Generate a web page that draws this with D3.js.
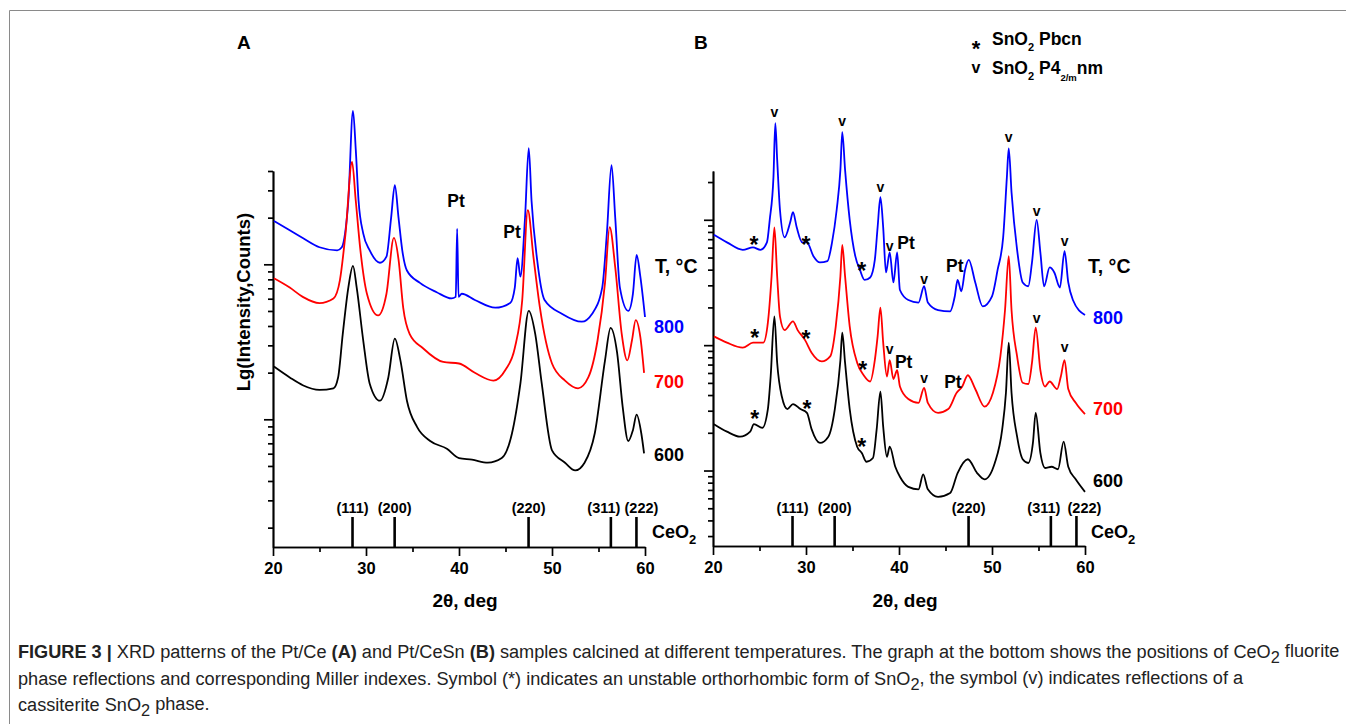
<!DOCTYPE html>
<html>
<head>
<meta charset="utf-8">
<script src="https://cdn.jsdelivr.net/npm/d3@7"></script>
<style>
  body { margin: 0; background: #fff; }
  svg text { font-family: "Liberation Sans", Arial, sans-serif; }
</style>
</head>
<body>
<svg id="fig" width="1346" height="724"></svg>
<script>
// ---- data ----
const xTicks = [20, 30, 40, 50, 60]
const xMinor = [25, 35, 45, 55]
const ceo2Pos = [28.55, 33.08, 47.48, 56.33, 59.08]
const ceo2Hkl = ['(111)', '(200)', '(220)', '(311)', '(222)']
const temps = ['800', '700', '600']
const colors = ['#0000ff', '#ff0000', '#000000']

// patterns: [2theta, lg(counts)]
const ptCe800 = [[20.1,4.28],[21.8,4.22],[23.2,4.17],[25.0,4.11],[26.9,4.09],[27.4,4.11],[27.75,4.20],[28.1,4.41],[28.6,4.99],[28.9,4.74],[29.2,4.41],[29.7,4.20],[30.4,4.09],[31.5,4.01],[32.2,4.05],[32.7,4.30],[33.1,4.51],[33.5,4.30],[33.9,4.09],[34.4,3.96],[35.8,3.88],[37.6,3.82],[39.2,3.78],[39.65,3.79],[39.8,4.23],[39.95,3.79],[40.3,3.81],[41.7,3.77],[43.9,3.72],[45.5,3.75],[46.0,3.85],[46.3,4.04],[46.6,3.92],[47.1,4.30],[47.5,4.75],[47.8,4.41],[48.4,4.03],[49.2,3.77],[51.1,3.68],[53.2,3.63],[54.3,3.68],[55.4,3.85],[55.9,4.20],[56.4,4.64],[56.8,4.30],[57.3,3.85],[58.2,3.70],[58.7,3.81],[59.1,4.06],[59.5,3.92],[60.0,3.66]]
const ptCe700 = [[20.1,3.91],[21.8,3.85],[23.2,3.79],[25.0,3.75],[26.5,3.78],[27.2,3.90],[27.8,4.20],[28.5,4.66],[28.9,4.41],[29.4,4.09],[30.1,3.81],[31.3,3.67],[32.2,3.81],[33.0,4.17],[33.5,4.03],[34.0,3.72],[34.7,3.55],[36.1,3.46],[38.3,3.37],[40.0,3.36],[41.7,3.30],[43.7,3.25],[45.0,3.32],[46.0,3.46],[46.8,3.77],[47.4,4.35],[48.0,4.05],[48.7,3.72],[50.0,3.36],[51.4,3.25],[52.8,3.20],[53.9,3.27],[54.9,3.51],[55.7,3.88],[56.2,4.24],[56.8,3.98],[57.5,3.55],[58.1,3.38],[58.6,3.51],[59.0,3.64],[59.5,3.53],[59.9,3.30]]
const ptCe600 = [[20.1,3.34],[21.8,3.27],[23.2,3.22],[25.0,3.19],[26.5,3.20],[27.0,3.27],[27.5,3.55],[28.1,3.85],[28.6,3.99],[29.0,3.85],[29.7,3.51],[30.4,3.23],[31.5,3.12],[32.4,3.27],[33.1,3.52],[33.7,3.38],[34.4,3.12],[35.5,2.95],[36.9,2.86],[38.7,2.81],[40.0,2.75],[41.4,2.74],[43.1,2.72],[44.6,2.75],[45.7,2.91],[46.6,3.23],[47.5,3.70],[48.2,3.55],[48.9,3.23],[50.0,2.80],[51.4,2.72],[52.5,2.67],[53.5,2.72],[54.6,2.91],[55.7,3.38],[56.3,3.59],[57.0,3.43],[57.6,3.08],[58.2,2.86],[58.7,2.93],[59.1,3.03],[59.6,2.91],[59.9,2.78]]

const ptCeSn800 = [[20.1,3.88],[21.5,3.82],[23.2,3.76],[24.3,3.78],[25.1,3.76],[25.8,3.82],[26.1,4.00],[26.5,4.34],[26.7,4.77],[26.9,4.48],[27.2,4.08],[27.7,3.86],[28.3,3.98],[28.6,4.06],[29.0,3.94],[29.6,3.82],[30.1,3.82],[30.8,3.71],[31.5,3.66],[32.3,3.67],[32.8,3.82],[33.3,4.08],[33.7,4.40],[33.9,4.70],[34.2,4.40],[34.7,4.00],[35.3,3.71],[35.8,3.60],[36.3,3.52],[36.9,3.54],[37.4,3.68],[37.7,3.94],[38.0,4.18],[38.3,3.94],[38.6,3.58],[39.0,3.74],[39.4,3.50],[39.8,3.74],[40.1,3.44],[41.0,3.36],[42.1,3.34],[42.7,3.47],[43.1,3.34],[44.2,3.28],[45.5,3.27],[46.0,3.39],[46.3,3.52],[46.7,3.43],[47.1,3.60],[47.5,3.68],[48.2,3.50],[49.0,3.31],[50.0,3.39],[50.6,3.60],[51.2,3.86],[51.6,4.34],[51.8,4.57],[52.1,4.22],[52.7,3.76],[53.3,3.50],[53.9,3.47],[54.3,3.66],[54.8,4.00],[55.2,3.74],[55.6,3.47],[56.2,3.62],[56.7,3.58],[57.3,3.46],[57.8,3.75],[58.2,3.50],[58.7,3.36],[60.0,3.24]]
const ptCeSn700 = [[20.1,3.07],[21.5,3.02],[23.2,2.98],[24.3,3.02],[25.4,3.02],[25.9,3.18],[26.3,3.55],[26.6,3.94],[26.9,3.55],[27.2,3.23],[27.7,3.12],[28.6,3.19],[29.1,3.12],[29.9,3.04],[30.6,2.94],[31.7,2.87],[32.6,2.91],[33.2,3.15],[33.7,3.55],[33.9,3.80],[34.2,3.55],[34.7,3.15],[35.5,2.86],[36.2,2.76],[36.9,2.71],[37.4,2.88],[37.7,3.07],[38.0,3.30],[38.3,3.02],[38.7,2.75],[39.0,2.88],[39.4,2.73],[39.8,2.80],[40.1,2.67],[41.0,2.57],[42.1,2.54],[42.7,2.66],[43.1,2.54],[44.2,2.46],[45.3,2.49],[46.2,2.62],[46.8,2.67],[47.4,2.76],[48.2,2.65],[49.2,2.51],[50.1,2.62],[50.9,2.91],[51.4,3.28],[51.8,3.71],[52.1,3.28],[52.7,2.91],[53.3,2.70],[53.9,2.69],[54.3,2.86],[54.7,3.14],[55.2,2.80],[55.7,2.67],[56.2,2.71],[57.0,2.65],[57.4,2.75],[57.8,2.88],[58.2,2.65],[59.0,2.54],[60.0,2.45]]
const ptCeSn600 = [[20.1,2.37],[21.5,2.31],[22.9,2.27],[24.0,2.31],[24.4,2.37],[25.3,2.34],[25.9,2.49],[26.2,2.75],[26.6,3.23],[26.9,2.86],[27.4,2.59],[28.0,2.49],[28.6,2.53],[29.4,2.49],[30.1,2.46],[30.6,2.33],[31.5,2.22],[32.4,2.27],[33.1,2.49],[33.7,2.88],[33.9,3.10],[34.2,2.86],[34.7,2.49],[35.5,2.19],[36.0,2.14],[36.5,2.07],[37.2,2.10],[37.6,2.33],[38.0,2.63],[38.3,2.35],[38.7,2.11],[39.0,2.19],[39.6,2.03],[40.1,1.95],[41.0,1.87],[42.1,1.85],[42.6,1.97],[43.1,1.85],[44.2,1.79],[45.5,1.82],[46.3,1.98],[47.4,2.09],[48.4,1.98],[49.2,1.93],[50.3,2.06],[51.1,2.33],[51.5,2.62],[51.8,3.02],[52.1,2.62],[52.7,2.27],[53.3,2.09],[53.9,2.06],[54.4,2.22],[54.7,2.46],[55.2,2.14],[55.7,2.02],[56.4,2.03],[57.1,2.01],[57.7,2.23],[58.2,2.03],[59.0,1.93],[60.0,1.83]]

// peak annotations [2theta, lg]
const ptMarksA = [[39.68, 4.41], [45.7, 4.21]]
const ptMarksB = [[40.75, 3.82], [46.0, 3.63], [40.5, 2.87], [45.8, 2.71]]
const starMarksB = [[24.4,3.84],[30.0,3.84],[36.0,3.63],[24.5,3.10],[30.0,3.09],[36.1,2.84],[24.5,2.45],[30.1,2.53],[36.0,2.23]]
const vMarksB = [[26.6,4.85],[33.9,4.78],[38.0,4.25],[39.0,3.78],[42.7,3.52],[51.8,4.65],[54.8,4.06],[57.8,3.82],[39.0,2.96],[42.7,2.73],[54.8,3.21],[57.8,2.98]]

// ---- layout ----
const svg = d3.select('#fig')
const bold = 'bold'

const panels = [
  { name: 'A', nameX: 237, left: 273, right: 645, top: 171, bottom: 547, yDomain: [150, 40000],
    series: [ptCe800, ptCe700, ptCe600], ptMarks: ptMarksA, stars: [], vs: [],
    tempX: 654, tempY: [333, 388, 461], tcX: 655, ceX: 652, hklShift: [0, 0, 0, -7, 5], yLabel: true },
  { name: 'B', nameX: 694, left: 713, right: 1085, top: 171, bottom: 546, yDomain: [25, 24500],
    series: [ptCeSn800, ptCeSn700, ptCeSn600], ptMarks: ptMarksB, stars: starMarksB, vs: vMarksB,
    tempX: 1093, tempY: [324, 415, 487], tcX: 1088, ceX: 1091, hklShift: [0, 0, 0, -7, 8], yLabel: false }
]

// frame
svg.append('path')
  .attr('d', 'M9.5,724V10.5H1346')
  .attr('fill', 'none')
  .attr('stroke', '#8a8a8a')
  .attr('stroke-width', 1)

function styleAxis(g) {
  g.selectAll('path, line').attr('stroke', '#000').attr('stroke-width', 1.7)
  g.selectAll('text').attr('font-weight', bold).attr('font-size', 16.5).attr('fill', '#000')
    .style('font-family', '"Liberation Sans", Arial, sans-serif')
}

function drawPanel(p) {
  const x = d3.scaleLinear().domain([20, 60]).range([p.left, p.right])
  const y = d3.scaleLog().domain(p.yDomain).range([p.bottom, p.top])
  const g = svg.append('g')

  const all = y.ticks()
  const major = all.filter(v => Math.abs(Math.log10(v) - Math.round(Math.log10(v))) < 1e-9)
  const minor = all.filter(v => !major.includes(v))

  g.append('g').attr('transform', `translate(${p.left},0)`)
    .call(d3.axisLeft(y).tickValues(minor).tickSize(5).tickSizeOuter(0).tickFormat(''))
    .call(styleAxis)
  g.append('g').attr('transform', `translate(${p.left},0)`)
    .call(d3.axisLeft(y).tickValues(major).tickSize(9).tickSizeOuter(0).tickFormat(''))
    .call(styleAxis)

  g.append('g').attr('transform', `translate(0,${p.bottom})`)
    .call(d3.axisBottom(x).tickValues(xMinor).tickSize(5).tickSizeOuter(0).tickFormat(''))
    .call(styleAxis)
  g.append('g').attr('transform', `translate(0,${p.bottom})`)
    .call(d3.axisBottom(x).tickValues(xTicks).tickSize(9).tickPadding(6).tickSizeOuter(0).tickFormat(d3.format('d')))
    .call(styleAxis)

  // CeO2 reference sticks
  g.selectAll('line.stick')
    .data(ceo2Pos)
    .join('line')
    .attr('x1', d => x(d)).attr('x2', d => x(d))
    .attr('y1', p.bottom).attr('y2', p.bottom - 30)
    .attr('stroke', '#000').attr('stroke-width', 2.6)
  g.selectAll('text.hkl')
    .data(ceo2Hkl)
    .join('text')
    .text(d => d)
    .attr('x', (d, i) => x(ceo2Pos[i]) + p.hklShift[i])
    .attr('y', 512.5)
    .attr('text-anchor', 'middle')
    .attr('font-size', 14.5).attr('font-weight', bold)
  const ce = g.append('text').attr('x', p.ceX).attr('y', 537.5)
    .attr('font-size', 18).attr('font-weight', bold)
  ce.append('tspan').text('CeO')
  ce.append('tspan').text('2').attr('font-size', 13).attr('dy', 6)

  // patterns
  const line = d3.line()
    .x(d => x(d[0]))
    .y(d => y(Math.pow(10, d[1])))
    .curve(d3.curveMonotoneX)
  p.series.forEach((s, i) => {
    g.append('path')
      .attr('d', line(s))
      .attr('fill', 'none')
      .attr('stroke', colors[i])
      .attr('stroke-width', 1.8)
      .attr('stroke-linejoin', 'round')
  })

  // annotations
  g.selectAll('text.pt')
    .data(p.ptMarks)
    .join('text')
    .text('Pt')
    .attr('x', d => x(d[0])).attr('y', d => y(Math.pow(10, d[1])) + 6.3)
    .attr('text-anchor', 'middle').attr('font-size', 17.5).attr('font-weight', bold)
  g.selectAll('text.star')
    .data(p.stars)
    .join('text')
    .text('*')
    .attr('x', d => x(d[0])).attr('y', d => y(Math.pow(10, d[1])) + 13)
    .attr('text-anchor', 'middle').attr('font-size', 23).attr('font-weight', bold)
  g.selectAll('text.v')
    .data(p.vs)
    .join('text')
    .text('v')
    .attr('x', d => x(d[0])).attr('y', d => y(Math.pow(10, d[1])) + 4)
    .attr('text-anchor', 'middle').attr('font-size', 14).attr('font-weight', bold)

  // temperatures
  g.append('text').text('T, °C')
    .attr('x', p.tcX).attr('y', 273)
    .attr('font-size', 19.5).attr('font-weight', bold)
  g.selectAll('text.temp')
    .data(temps)
    .join('text')
    .text(d => d)
    .attr('x', p.tempX).attr('y', (d, i) => p.tempY[i])
    .attr('fill', (d, i) => colors[i])
    .attr('font-size', 18).attr('font-weight', bold)

  // titles
  g.append('text').text(p.name)
    .attr('x', p.nameX).attr('y', 49)
    .attr('font-size', 19).attr('font-weight', bold)
  g.append('text').text('2θ, deg')
    .attr('x', (p.left + p.right) / 2 + 6).attr('y', 607)
    .attr('text-anchor', 'middle').attr('font-size', 19).attr('font-weight', bold)
  if (p.yLabel) {
    g.append('text').text('Lg(Intensity,Counts)')
      .attr('transform', `translate(250,302) rotate(-90)`)
      .attr('text-anchor', 'middle').attr('font-size', 18.5).attr('font-weight', bold)
  }
}

panels.forEach(drawPanel)

// legend of panel B
const legend = [
  { sym: '*', symSize: 22, symY: 56, base: 45, parts: [['SnO'], ['2', 'sub'], [' Pbcn']] },
  { sym: 'v', symSize: 16, symY: 73, base: 74, parts: [['SnO'], ['2', 'sub'], [' P4'], ['2/m', 'sub2'], ['nm']] }
]
legend.forEach(l => {
  svg.append('text').text(l.sym)
    .attr('x', 976).attr('y', l.symY)
    .attr('text-anchor', 'middle').attr('font-size', l.symSize).attr('font-weight', bold)
  const t = svg.append('text').attr('x', 992).attr('y', l.base)
    .attr('font-size', 17.5).attr('font-weight', bold)
  let shift = 0
  l.parts.forEach(([s, kind]) => {
    const want = kind === 'sub' ? 6 : kind === 'sub2' ? 7 : 0
    const ts = t.append('tspan').text(s).attr('dy', want - shift)
    if (kind === 'sub') ts.attr('font-size', 11)
    if (kind === 'sub2') ts.attr('font-size', 9.5)
    shift = want
  })
})

// caption
const captionLines = [
  [['FIGURE 3 | ', 'b'], ['XRD patterns of the Pt/Ce '], ['(A)', 'b'], [' and Pt/CeSn '], ['(B)', 'b'],
   [' samples calcined at different temperatures. The graph at the bottom shows the positions of CeO'], ['2', 'sub'], [' fluorite']],
  [['phase reflections and corresponding Miller indexes. Symbol (*) indicates an unstable orthorhombic form of SnO'], ['2', 'sub'],
   [', the symbol (v) indicates reflections of a']],
  [['cassiterite SnO'], ['2', 'sub'], [' phase.']]
]
const capBase = [658, 685, 711]
const capNodes = captionLines.map((parts, i) => {
  const t = svg.append('text').attr('x', 18).attr('y', capBase[i])
    .style('font-family', '"Liberation Sans Narrow", "Arial Narrow", "Liberation Sans", sans-serif')
    .attr('font-size', 16).attr('fill', '#222')
  let shift = 0
  parts.forEach(([s, kind]) => {
    const want = kind === 'sub' ? 0.3 : 0
    const ts = t.append('tspan').text(s).attr('dy', (want - shift) + 'em')
    if (kind === 'b') ts.attr('font-weight', bold)
    if (kind === 'sub') ts.attr('font-size', '0.9em')
    shift = want
  })
  return t
})
const w = capNodes[0].node().getComputedTextLength()
const fs = 16 * 1322 / w
capNodes.forEach(t => t.attr('font-size', fs))
</script>
</body>
</html>
